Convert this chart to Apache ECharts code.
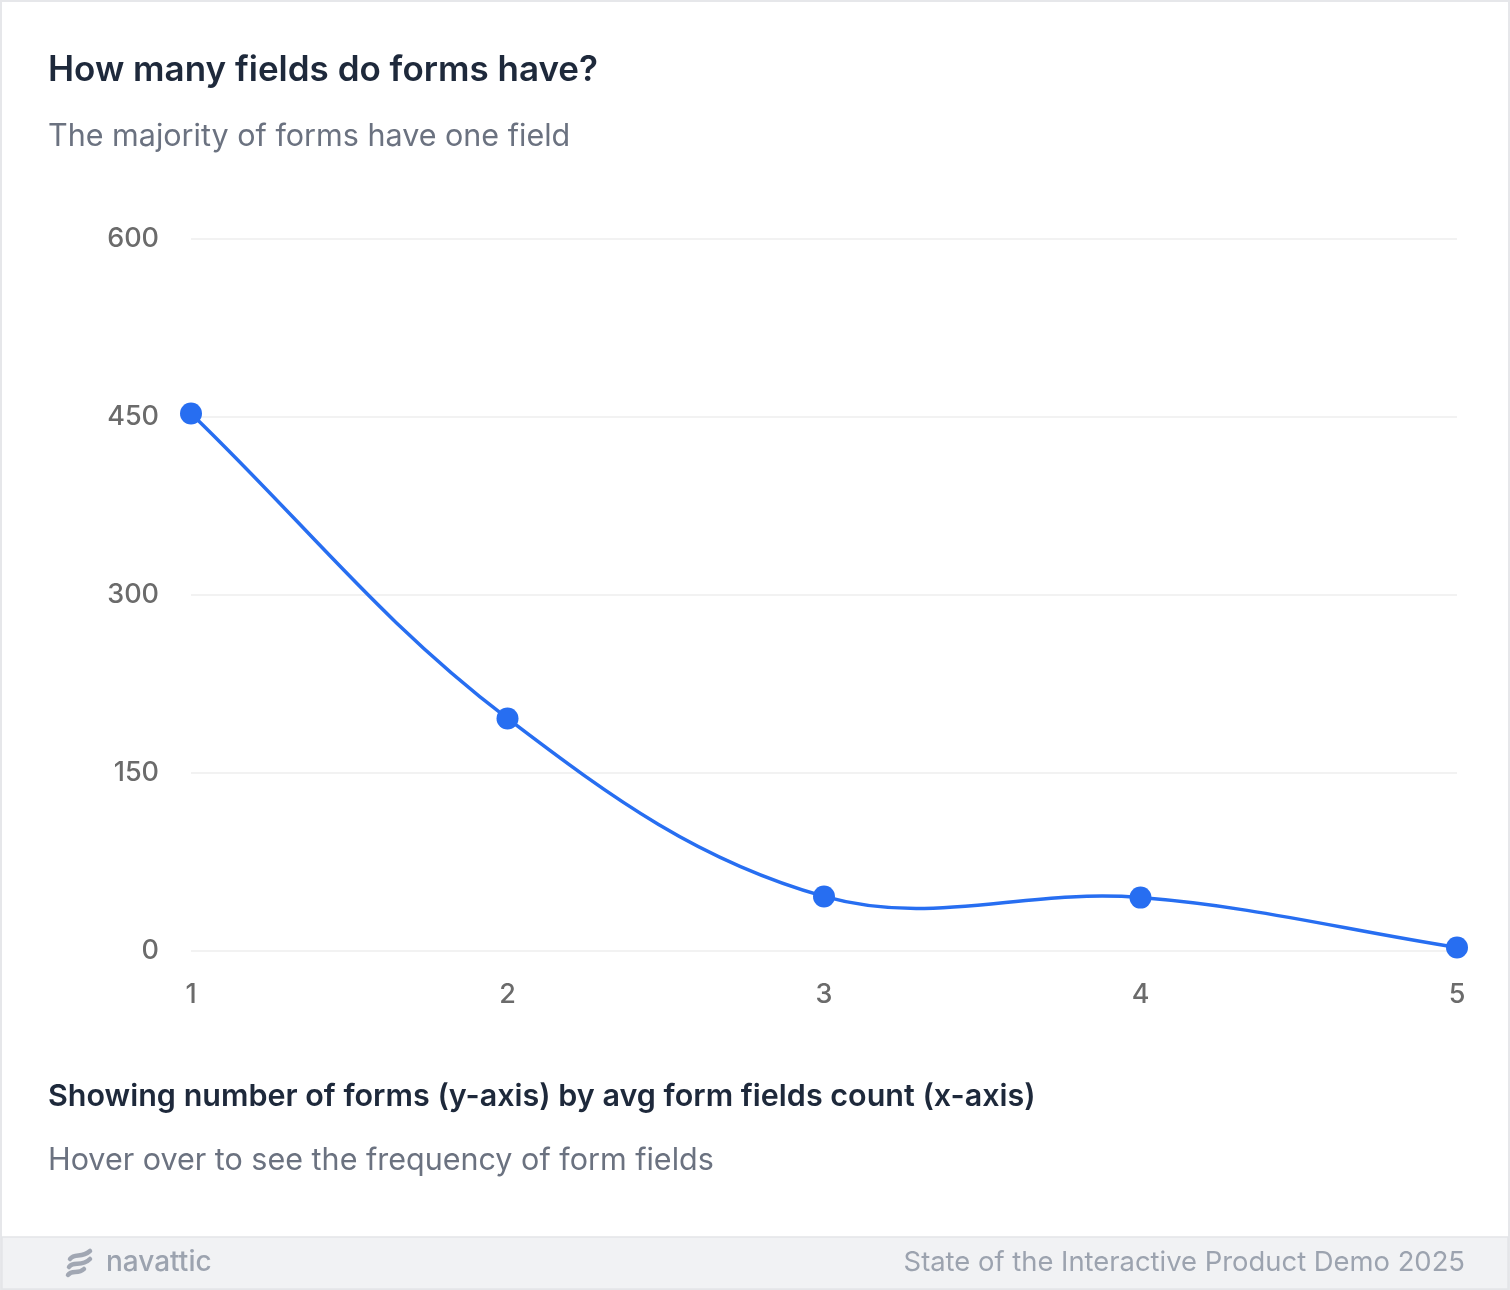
<!DOCTYPE html>
<html>
<head>
<meta charset="utf-8">
<script src="https://cdn.jsdelivr.net/npm/echarts@6/dist/echarts.min.js"></script>
<style>
html,body{margin:0;padding:0;background:#fff;}
#chart{width:1510px;height:1290px;}
</style>
</head>
<body>
<div id="chart"></div>
<script>
const categories = ['1', '2', '3', '4', '5'];
const formCounts = [453, 196, 46, 45, 3];
const yTicks = [0, 150, 300, 450, 600];

const titleText = 'How many fields do forms have?';
const subtitleText = 'The majority of forms have one field';
const captionText = 'Showing number of forms (y-axis) by avg form fields count (x-axis)';
const hintText = 'Hover over to see the frequency of form fields';
const brandText = 'navattic';
const sourceText = 'State of the Interactive Product Demo 2025';

const FONT = 'Inter, "Noto Sans", sans-serif';
const LINE_COLOR = '#276ef1';
const TENSION = 0.37;
const chart = echarts.init(document.getElementById('chart'), null, {renderer: 'canvas'});

const logoStroke = {fill: 'none', stroke: '#a1a7b3', lineWidth: 4.5, lineCap: 'round'};

// Cardinal-spline path through the points, positioned by the chart's own axes (api.coord)
function renderCurve(params, api) {
  const pts = formCounts.map((v, i) => api.coord([i, v]));
  const n = pts.length;
  const cpsBefore = [], cpsAfter = [];
  for (let i = 0; i < n; i++) {
    const cur = pts[i];
    const prev = pts[i - 1] || cur;
    const next = pts[i + 1] || cur;
    const d01 = Math.hypot(cur[0] - prev[0], cur[1] - prev[1]);
    const d12 = Math.hypot(next[0] - cur[0], next[1] - cur[1]);
    const tot = d01 + d12 || 1;
    const fa = TENSION * d01 / tot;
    const fb = TENSION * d12 / tot;
    cpsBefore.push([cur[0] - fa * (next[0] - prev[0]), cur[1] - fa * (next[1] - prev[1])]);
    cpsAfter.push([cur[0] + fb * (next[0] - prev[0]), cur[1] + fb * (next[1] - prev[1])]);
  }
  let d = 'M' + pts[0][0] + ',' + pts[0][1];
  for (let i = 1; i < n; i++) {
    d += ' C' + cpsAfter[i - 1][0] + ',' + cpsAfter[i - 1][1] + ' ' +
      cpsBefore[i][0] + ',' + cpsBefore[i][1] + ' ' + pts[i][0] + ',' + pts[i][1];
  }
  return {
    type: 'path',
    shape: {pathData: d},
    style: {fill: 'none', stroke: LINE_COLOR, lineWidth: 3.5, lineJoin: 'round'},
    silent: true
  };
}

chart.setOption({
  backgroundColor: '#ffffff',
  animation: false,
  textStyle: {fontFamily: FONT},
  title: [
    {text: titleText, left: 48, top: 53, padding: 0, textStyle: {fontFamily: FONT, fontSize: 35, fontWeight: 600, color: '#1e293b'}},
    {text: subtitleText, left: 48, top: 121, padding: 0, textStyle: {fontFamily: FONT, fontSize: 30.5, fontWeight: 400, color: '#6b7280'}},
    {text: captionText, left: 48, top: 1081, padding: 0, textStyle: {fontFamily: FONT, fontSize: 30.5, fontWeight: 600, color: '#1e293b'}},
    {text: hintText, left: 48, top: 1145, padding: 0, textStyle: {fontFamily: FONT, fontSize: 30.5, fontWeight: 400, color: '#6b7280'}}
  ],
  grid: {left: 191, right: 53, top: 239, bottom: 339, containLabel: false},
  xAxis: {
    type: 'category',
    data: categories,
    boundaryGap: false,
    axisLine: {show: false},
    axisTick: {show: false},
    axisLabel: {fontFamily: FONT, fontSize: 27, fontWeight: 500, color: '#6b6b6b', margin: 30},
    splitLine: {show: false}
  },
  yAxis: {
    type: 'value',
    min: yTicks[0],
    max: yTicks[yTicks.length - 1],
    interval: yTicks[1] - yTicks[0],
    axisLine: {show: false},
    axisTick: {show: false},
    axisLabel: {fontFamily: FONT, fontSize: 27, fontWeight: 500, color: '#6b6b6b', margin: 32, padding: [4, 0, 0, 0]},
    splitLine: {lineStyle: {color: '#eeeeee', width: 1.5}}
  },
  series: [
    {
      type: 'custom',
      data: [0],
      renderItem: renderCurve,
      z: 2,
      silent: true,
      tooltip: {show: false}
    },
    {
      type: 'line',
      name: 'Forms',
      data: formCounts,
      symbol: 'circle',
      symbolSize: 22,
      lineStyle: {opacity: 0},
      itemStyle: {color: LINE_COLOR},
      z: 3
    }
  ],
  tooltip: {trigger: 'axis'},
  graphic: [
    {type: 'rect', shape: {x: 1, y: 1, width: 1508, height: 1288}, style: {fill: 'none', stroke: '#e6e7ea', lineWidth: 2}, silent: true, z: 0},
    {type: 'rect', shape: {x: 2, y: 1237, width: 1506, height: 52}, style: {fill: '#f1f2f4', stroke: '#e3e5e8', lineWidth: 1.5}, silent: true, z: 1},
    {type: 'bezierCurve', z: 2, silent: true, shape: {x1: 70, y1: 1259, cpx1: 75, cpy1: 1252, cpx2: 81, cpy2: 1259, x2: 90, y2: 1251}, style: logoStroke},
    {type: 'bezierCurve', z: 2, silent: true, shape: {x1: 69, y1: 1267, cpx1: 74, cpy1: 1260, cpx2: 81, cpy2: 1268, x2: 90, y2: 1259}, style: logoStroke},
    {type: 'bezierCurve', z: 2, silent: true, shape: {x1: 68, y1: 1275, cpx1: 72, cpy1: 1269, cpx2: 78, cpy2: 1275, x2: 84, y2: 1269}, style: logoStroke},
    {type: 'text', z: 2, left: 106, top: 1249, silent: true, style: {text: brandText, fontFamily: FONT, fontSize: 28, fontWeight: 500, fill: '#9ca3af'}},
    {type: 'text', z: 2, right: 45, top: 1249, silent: true, style: {text: sourceText, fontFamily: FONT, fontSize: 27.4, fontWeight: 400, fill: '#9ca3af'}}
  ]
});
</script>
</body>
</html>
